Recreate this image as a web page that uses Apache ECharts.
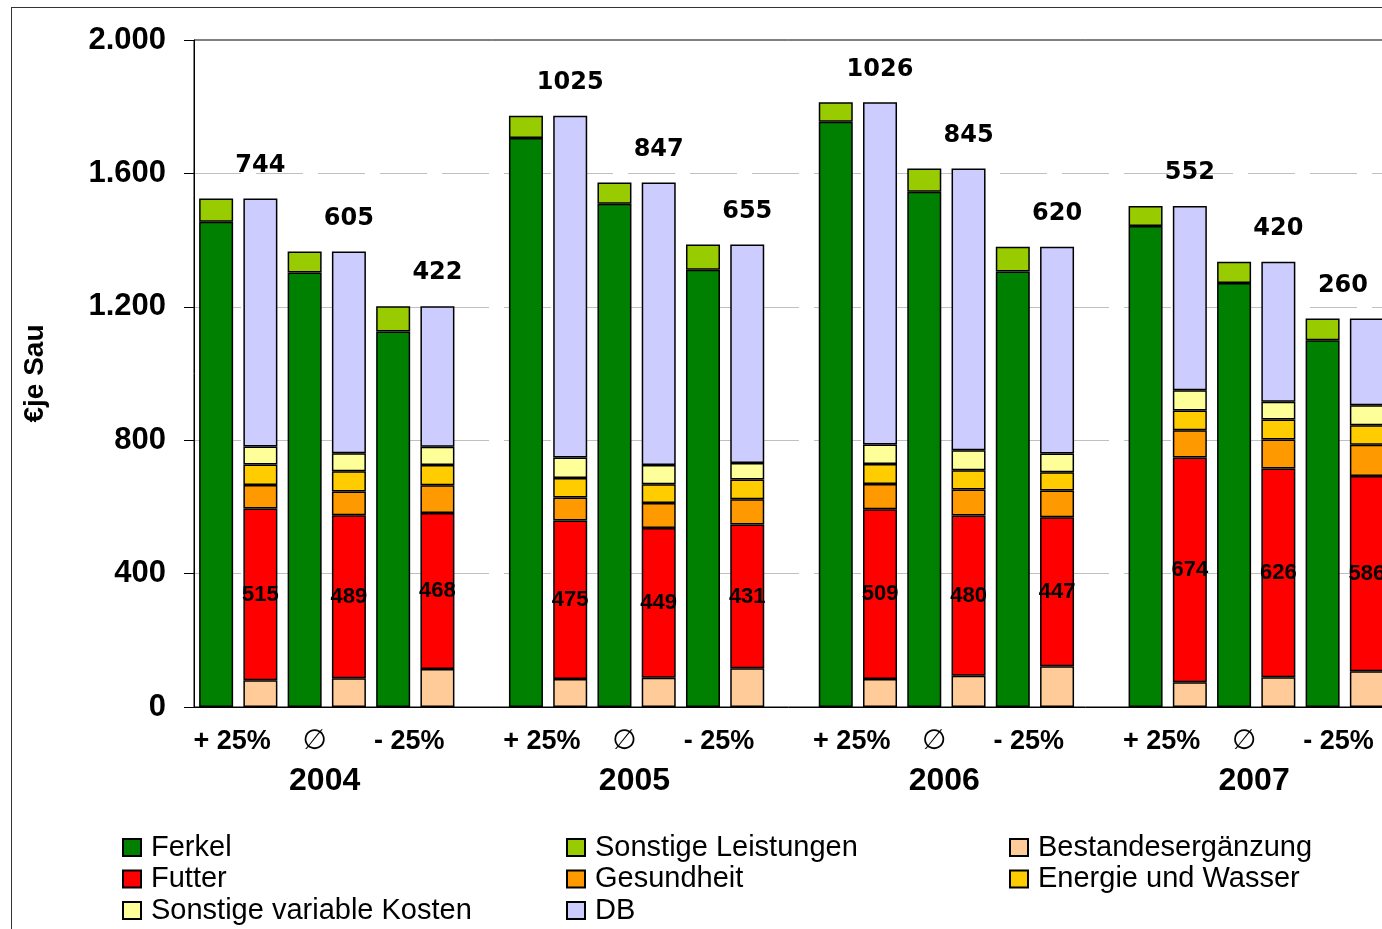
<!DOCTYPE html>
<html>
<head>
<meta charset="utf-8">
<script src="https://cdn.jsdelivr.net/npm/echarts@6/dist/echarts.min.js"></script>
<style>
  html, body { margin: 0; padding: 0; background: #fff; overflow: hidden; }
  #frame { position: absolute; left: 11px; top: 7px; width: 1500px; height: 1000px; border: 1px solid #333; }
  #chart { position: absolute; left: 0; top: 0; width: 1382px; height: 929px; }
</style>
</head>
<body>
<div id="frame"></div>
<div id="chart"></div>
<script>
// values per bar pair: 2004 (+25%, Ø, -25%), 2005 (...), 2006 (...), 2007 (...)
const years = ['2004', '2005', '2006', '2007']
const scenarios = ['+ 25%', '∅', '- 25%']

// Leistungen (left bar)
const ferkel = [1455, 1303, 1126, 1706, 1509, 1311, 1755, 1545, 1306, 1442, 1271, 1100]
const sonstLeistungen = [70, 63, 76, 67, 64, 76, 58, 70, 74, 60, 64, 65]

// Kosten + DB (right bar)
const bestand = [80, 86, 114, 84, 88, 116, 84, 94, 122, 74, 89, 107]
const futter = [515, 489, 468, 475, 449, 431, 509, 480, 447, 674, 626, 586]
const gesundheit = [71, 71, 83, 69, 75, 76, 76, 78, 80, 82, 87, 93]
const energie = [61, 61, 61, 59, 56, 59, 60, 58, 55, 59, 60, 59]
const sonstKosten = [54, 54, 54, 61, 58, 50, 58, 60, 56, 61, 53, 60]
const db = [744, 605, 422, 1025, 847, 655, 1026, 845, 620, 552, 420, 260]

const yTicks = [0, 400, 800, 1200, 1600, 2000]

// slots: per year 3 x (Leistung, Kosten) and one empty gap slot
const slots = []
years.forEach((y, yi) => {
  scenarios.forEach((s, si) => {
    slots.push(y + '|' + si + '|r')
    slots.push(y + '|' + si + '|c')
  })
  if (yi < years.length - 1) slots.push(y + '|gap|g')
})

function toSlots(values, kind) {
  const out = slots.map(() => null)
  values.forEach((v, i) => {
    const yi = Math.floor(i / 3)
    const si = i % 3
    const idx = yi * 7 + si * 2 + (kind === 'r' ? 0 : 1)
    out[idx] = v
  })
  return out
}

const font = 'Liberation Sans, Arial, sans-serif'

function barSeries(name, values, kind, color, label) {
  return {
    name: name,
    type: 'bar',
    stack: 'all',
    barWidth: 34,
    data: toSlots(values, kind),
    itemStyle: {color: color, borderColor: '#000', borderWidth: 1.5},
    label: label || {show: false}
  }
}

const chart = echarts.init(document.getElementById('chart'))

const legendBase = {
  orient: 'vertical',
  padding: 0,
  height: 120,
  itemWidth: 18,
  itemHeight: 17,
  itemGap: 2.5,
  selectedMode: false,
  icon: 'rect',
  textStyle: {fontFamily: font, fontSize: 29, color: '#000', lineHeight: 29, padding: [0, 0, 0, 5]}
}

const option = {
  animation: false,
  backgroundColor: 'transparent',
  grid: {
    left: 194, right: -7, top: 40, bottom: 222,
    show: true, borderColor: '#000', borderWidth: 1,
    outerBoundsMode: 'none'
  },
  legend: [
    Object.assign({left: 122, top: 833, data: ['Ferkel', 'Futter', 'Sonstige variable Kosten']}, legendBase),
    Object.assign({left: 566, top: 833, data: ['Sonstige Leistungen', 'Gesundheit', 'DB']}, legendBase),
    Object.assign({left: 1009, top: 833, data: ['Bestandesergänzung', 'Energie und Wasser']}, legendBase)
  ],
  xAxis: [
    {
      type: 'category',
      data: slots,
      axisLine: {lineStyle: {color: '#000', width: 1}},
      axisTick: {show: false},
      axisLabel: {
        interval: 0,
        margin: 21,
        formatter: function (v) {
          const p = v.split('|')
          if (p[2] !== 'r') return ''
          const s = scenarios[+p[1]]
          return s === '∅' ? '{d|' + s + '}' : '{s|' + s + '}'
        },
        rich: {
          s: {fontFamily: font, fontSize: 27, fontWeight: 'bold', color: '#000', padding: [0, 0, 0, 32]},
          d: {fontFamily: 'DejaVu Sans', fontSize: 28, color: '#000', padding: [0, 0, 0, 20]}
        }
      }
    },
    {
      type: 'category',
      data: slots,
      position: 'bottom',
      axisLine: {show: false},
      axisTick: {show: false},
      splitLine: {show: false},
      axisLabel: {
        interval: 0,
        margin: 58,
        formatter: function (v) {
          const p = v.split('|')
          return (p[1] === '1' && p[2] === 'r') ? '{y|' + p[0] + '}' : ''
        },
        rich: {
          y: {fontFamily: font, fontSize: 32, fontWeight: 'bold', color: '#000', padding: [0, 0, 0, 40]}
        }
      }
    }
  ],
  yAxis: {
    type: 'value',
    min: yTicks[0],
    max: yTicks[yTicks.length - 1],
    interval: 400,
    name: '€je Sau',
    nameLocation: 'middle',
    nameRotate: 90,
    nameGap: 145,
    nameTextStyle: {fontFamily: font, fontSize: 28, fontWeight: 'bold', color: '#000'},
    axisLine: {show: true, lineStyle: {color: '#000', width: 1}},
    axisTick: {show: true, length: 10, lineStyle: {color: '#000'}},
    axisLabel: {
      margin: 28,
      fontFamily: font,
      fontSize: 31,
      fontWeight: 'bold',
      color: '#000',
      formatter: function (v) {
        return v >= 1000 ? Math.floor(v / 1000) + '.' + String(v % 1000).padStart(3, '0') : String(v)
      }
    },
    splitLine: {showMaxLine: false, lineStyle: {color: '#c0c0c0', width: 1, type: [47, 15]}}
  },
  series: [
    barSeries('Ferkel', ferkel, 'r', '#008000'),
    barSeries('Sonstige Leistungen', sonstLeistungen, 'r', '#99CC00'),
    barSeries('Bestandesergänzung', bestand, 'c', '#FFCC99'),
    barSeries('Futter', futter, 'c', '#FF0000', {
      show: true, position: 'inside',
      fontFamily: font, fontSize: 22, fontWeight: 'bold', color: '#000'
    }),
    barSeries('Gesundheit', gesundheit, 'c', '#FF9900'),
    barSeries('Energie und Wasser', energie, 'c', '#FFCC00'),
    barSeries('Sonstige variable Kosten', sonstKosten, 'c', '#FFFF99'),
    Object.assign(barSeries('DB', db, 'c', '#CCCCFF', {
      show: true, position: 'top', distance: 21,
      fontFamily: 'DejaVu Sans', fontSize: 24, fontWeight: 'bold', color: '#000'
    }), {
      // keep labels inside the picture
      labelLayout: function (p) {
        const r = p.labelRect
        const maxX = chart.getWidth() - 14
        if (r.x + r.width > maxX) {
          return {
            x: maxX - r.width / 2,
            y: r.y + r.height / 2,
            align: 'center',
            verticalAlign: 'middle'
          }
        }
      }
    })
  ]
}

chart.setOption(option)
window.addEventListener('resize', function () {
  chart.resize()
})
</script>
</body>
</html>
